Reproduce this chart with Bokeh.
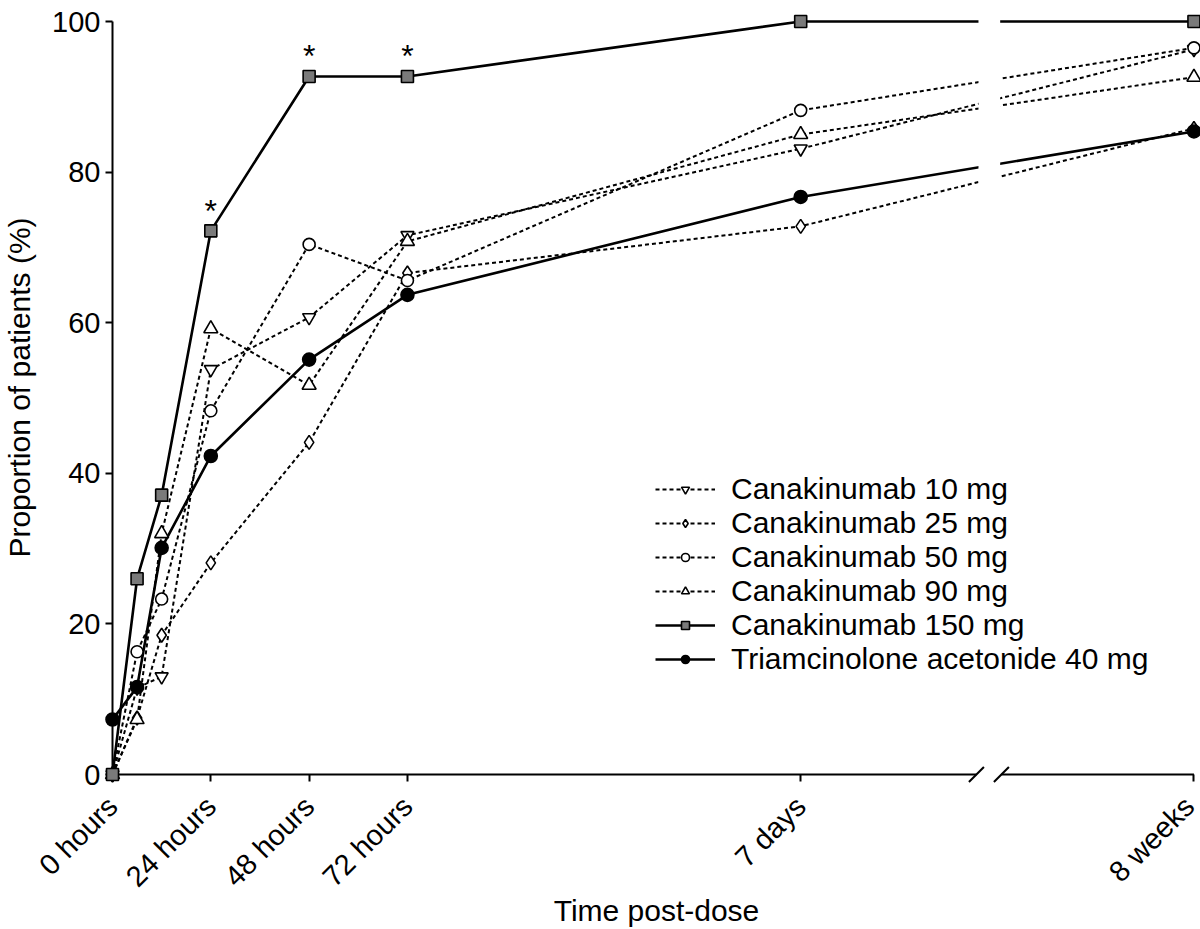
import math
from bokeh.plotting import figure
from bokeh.models import Range1d, FixedTicker, Legend, LegendItem, BoxAnnotation
from bokeh.core.properties import value
from bokeh.embed import file_html
from bokeh.resources import INLINE

# ---- data -------------------------------------------------------------
# x positions (hours); the 8-week visit is drawn after an axis break
time_pos = [0, 6, 12, 24, 48, 72, 168, 264]
tick_pos = [0, 24, 48, 72, 168, 264]
tick_labels = ["0 hours", "24 hours", "48 hours", "72 hours", "7 days", "8 weeks"]

cana_10 = [0, 11.5, 13.0, 53.8, 60.7, 71.6, 83.1, 96.3]
cana_25 = [0, 7.5, 18.5, 28.1, 44.1, 66.6, 72.8, 85.8]
cana_50 = [0, 16.3, 23.3, 48.3, 70.4, 65.6, 88.2, 96.5]
cana_90 = [0, 7.3, 32.0, 59.2, 51.7, 70.8, 85.0, 92.6]
cana_150 = [0, 26.0, 37.1, 72.2, 92.7, 92.7, 100, 100]
triam_40 = [7.3, 11.6, 30.1, 42.3, 55.1, 63.7, 76.7, 85.4]

series_names = ["Canakinumab 10 mg", "Canakinumab 25 mg", "Canakinumab 50 mg",
                "Canakinumab 90 mg", "Canakinumab 150 mg",
                "Triamcinolone acetonide 40 mg"]
series_values = [cana_10, cana_25, cana_50, cana_90, cana_150, triam_40]

# significance markers (indices into time_pos for the 150 mg series)
sig_idx = [3, 4, 5]

# axis break (in x units)
brk_left, brk_right = 210.9, 217.0

FONT = "Liberation Sans"

# ---- styles -----------------------------------------------------------
styles = [
    dict(marker="inverted_triangle", size=13, fill="white", dash="4 3", lw=2),
    dict(marker="diamond", size=14, fill="white", dash="4 3", lw=2),
    dict(marker="circle", size=12, fill="white", dash="4 3", lw=2),
    dict(marker="triangle", size=14, fill="white", dash="4 3", lw=2),
    dict(marker="square", size=12, fill="#7a7a7a", dash="solid", lw=2.6),
    dict(marker="circle", size=13, fill="black", dash="solid", lw=2.6),
]

p = figure(width=1200, height=929, output_backend="svg", toolbar_location=None,
           x_range=Range1d(0, 265.6), y_range=Range1d(0, 102.79),
           min_border_left=112, min_border_right=0, min_border_top=0,
           min_border_bottom=154)
p.outline_line_color = None
p.grid.visible = False
p.background_fill_color = "white"
p.border_fill_color = "white"

lines = []
for vals, st in zip(series_values, styles):
    lines.append(p.line(time_pos, vals, line_color="black", line_width=st["lw"],
                        line_dash=st["dash"]))

# axis break: blank the gap in the data lines
p.add_layout(BoxAnnotation(left=brk_left + 0.5, right=brk_right - 0.3, bottom=0.4,
                           fill_color="white", fill_alpha=1.0, line_color=None,
                           level="annotation"))

# x-axis line with a break, plus break slashes
p.segment(x0=[0, brk_right], y0=[0, 0], x1=[brk_left, tick_pos[-1]], y1=[0, 0],
          line_color="black", line_width=2, level="overlay")
dx, dy = 1.83, 1.0
p.segment(x0=[brk_left - dx, brk_right - dx], y0=[-dy, -dy],
          x1=[brk_left + dx, brk_right + dx], y1=[dy, dy],
          line_color="black", line_width=2, level="overlay")

items = []
for name, vals, st, ln in zip(series_names, series_values, styles, lines):
    sc = p.scatter(time_pos, vals, marker=st["marker"], size=st["size"],
                   fill_color=st["fill"], line_color="black", line_width=1.6,
                   level="overlay")
    items.append(LegendItem(label=name, renderers=[ln, sc]))

# asterisks
p.text(x=[time_pos[i] for i in sig_idx], y=[cana_150[i] for i in sig_idx],
       text=["*"] * len(sig_idx), text_font=value(FONT), text_font_size="32px",
       text_align="center", text_baseline="alphabetic", y_offset=-20,
       text_color="black", level="overlay")

# axes
xa, ya = p.xaxis[0], p.yaxis[0]
xa.ticker = FixedTicker(ticks=tick_pos)
xa.major_label_overrides = {t: l for t, l in zip(tick_pos, tick_labels)}
xa.major_label_orientation = math.pi / 4
ya.ticker = FixedTicker(ticks=[0, 20, 40, 60, 80, 100])
ya.bounds = (0, 100)
xa.axis_label = "Time post-dose"
ya.axis_label = "Proportion of patients (%)"
for ax in (xa, ya):
    ax.axis_line_color = "black"
    ax.axis_line_width = 2
    ax.major_tick_line_color = "black"
    ax.major_tick_line_width = 2
    ax.major_tick_out = 7
    ax.major_tick_in = 0
    ax.minor_tick_out = 0
    ax.minor_tick_in = 0
    ax.major_label_text_font = FONT
    ax.major_label_text_font_size = "29px"
    ax.major_label_text_color = "black"
    ax.axis_label_text_font = FONT
    ax.axis_label_text_font_size = "30px"
    ax.axis_label_text_font_style = "normal"
    ax.axis_label_text_color = "black"
xa.axis_line_color = None
xa.major_label_standoff = 20
xa.axis_label_standoff = -13
ya.major_label_standoff = 5
ya.axis_label_standoff = 13

legend = Legend(items=items, location=(543, 98), border_line_color=None,
                background_fill_alpha=0, padding=0, margin=0, spacing=0,
                glyph_width=60, glyph_height=20, label_height=20,
                label_standoff=16, label_text_font=FONT,
                label_text_font_size="30px", label_text_color="black")
p.add_layout(legend)

open("out.html", "w").write(file_html(p, INLINE))
